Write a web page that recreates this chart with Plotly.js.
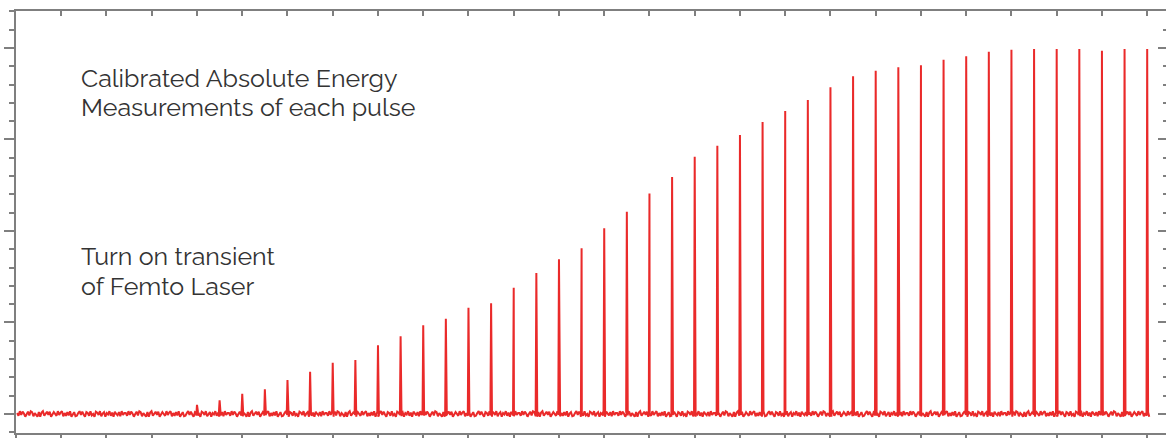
<!DOCTYPE html>
<html>
<head>
<meta charset="utf-8">
<script src="https://cdn.plot.ly/plotly-3.0.1.min.js"></script>
<style>
html,body{margin:0;padding:0;background:#fff;overflow:hidden;}
#chart{width:1170px;height:438px;}
</style>
</head>
<body>
<div id="chart"></div>
<script>
// Pulse positions (pulse number, x units) and calibrated energy of each pulse (y units)
const pulsePositions = [8,9,10,11,12,13,14,15,16,17,18,19,20,21,22,23,24,25,26,27,28,29,30,31,32,33,34,35,36,37,38,39,40,41,42,43,44,45,46,47,48,49,50];
const pulseEnergy = [0.10,0.15,0.22,0.27,0.37,0.46,0.56,0.59,0.75,0.85,0.97,1.04,1.16,1.21,1.38,1.54,1.69,1.81,2.03,2.21,2.41,2.59,2.81,2.93,3.05,3.19,3.31,3.43,3.57,3.69,3.75,3.79,3.81,3.87,3.91,3.96,3.98,3.99,3.99,3.99,3.97,3.99,3.99];
// Baseline noise pattern (y units)
const baselineNoise = [0.01,-0.02,0.03,-0.01,0.025,0.005,-0.03,0.0,0.025,-0.015,0.03,0.02,-0.025,0.01,-0.005,-0.03,0.02,-0.03,0.015,0.03,-0.02,0.005,0.025,-0.01,0.025,-0.03,-0.01,0.02,0.0,-0.02,0.03,-0.01,0.015,0.03,-0.025,0.01,-0.02,0.02,-0.015,0.03,-0.03,0.005,0.02,-0.025,-0.02,0.01,0.03,-0.01,0.025,-0.005,-0.03,0.02,0.01,-0.02,0.03,-0.015,0.0,-0.03,0.025,0.015,-0.01,0.03,-0.025,0.005,0.02,-0.03,0.01,-0.005,0.03,-0.02,0.015,-0.03,0.025,0.0,-0.015,0.02,-0.025,0.03,-0.01,0.01];
const xStart = 0.05, xEnd = 50.1, xStep = 0.06;
const majorX = [0,2,4,6,8,10,12,14,16,18,20,22,24,26,28,30,32,34,36,38,40,42,44,46,48,50];
const textLines = ['Calibrated Absolute Energy', 'Measurements of each pulse', 'Turn on transient', 'of Femto Laser'];

// Build the signal trace
const xs = [], ys = [];
let n = 0, p = 0;
for (let x = xStart; x <= xEnd + 1e-9; x += xStep) {
  while (p < pulsePositions.length && pulsePositions[p] <= x) {
    const px = pulsePositions[p];
    xs.push(px - 0.03); ys.push(baselineNoise[n % baselineNoise.length]); n++;
    xs.push(px); ys.push(pulseEnergy[p]);
    xs.push(px + 0.04); ys.push(baselineNoise[n % baselineNoise.length]); n++;
    p++;
  }
  xs.push(x); ys.push(baselineNoise[n % baselineNoise.length]); n++;
}

const axisColor = '#7f7f7f';
const red = '#ea2a2a';
const yRange = [-0.208, 4.404];
const xRange = [0, 50.92];

const traces = [
  {x: xs, y: ys, type: 'scatter', mode: 'lines', line: {color: red, width: 2}, hoverinfo: 'skip', showlegend: false},
  {x: [0], y: [0], xaxis: 'x2', yaxis: 'y2', type: 'scatter', mode: 'markers', marker: {opacity: 0}, hoverinfo: 'skip', showlegend: false}
];

const textFont = {family: 'Raleway, Lato, "Open Sans", sans-serif', size: 25, color: '#333333', weight: 400};
const textY = [0.841, 0.7725, 0.4194, 0.3483];

const layout = {
  width: 1170, height: 438,
  margin: {l: 16, r: 2, t: 11, b: 5},
  paper_bgcolor: '#ffffff', plot_bgcolor: '#ffffff',
  showlegend: false,
  xaxis: {range: xRange, tickmode: 'array', tickvals: majorX, ticks: 'outside', ticklen: 6, tickwidth: 2, tickcolor: axisColor,
          showticklabels: false, showline: true, linewidth: 2, linecolor: axisColor, showgrid: false, zeroline: false, fixedrange: true},
  xaxis2: {range: xRange, overlaying: 'x', side: 'top', tickmode: 'array', tickvals: majorX, ticks: 'inside', ticklen: 5, tickwidth: 2, tickcolor: axisColor,
           showticklabels: false, showline: true, linewidth: 2, linecolor: axisColor, showgrid: false, zeroline: false, fixedrange: true},
  yaxis: {range: yRange, tick0: 0, dtick: 1, ticks: 'outside', ticklen: 10, tickwidth: 2, tickcolor: axisColor,
          minor: {tick0: 0, dtick: 0.2, ticks: 'outside', ticklen: 5, tickwidth: 2, tickcolor: axisColor, showgrid: false},
          showticklabels: false, showline: true, linewidth: 2, linecolor: axisColor, showgrid: false, zeroline: false, fixedrange: true},
  yaxis2: {range: yRange, overlaying: 'y', side: 'right', tick0: 0, dtick: 1, ticks: 'inside', ticklen: 10, tickwidth: 2, tickcolor: axisColor,
           minor: {tick0: 0, dtick: 0.2, ticks: 'inside', ticklen: 5, tickwidth: 2, tickcolor: axisColor, showgrid: false},
           showticklabels: false, showline: false, showgrid: false, zeroline: false, fixedrange: true},
  annotations: textLines.map((t, i) => ({
    xref: 'paper', yref: 'paper', x: 0.0545, y: textY[i], xanchor: 'left', yanchor: 'middle', align: 'left', showarrow: false,
    text: t, font: textFont
  }))
};

Plotly.newPlot('chart', traces, layout, {displayModeBar: false, staticPlot: true});
</script>
</body>
</html>
